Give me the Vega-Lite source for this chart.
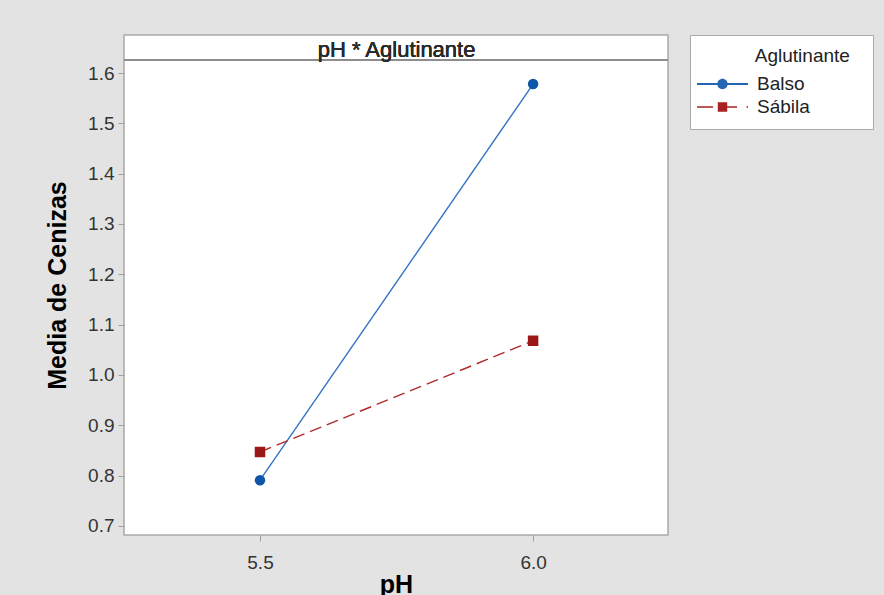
{
  "$schema": "https://vega.github.io/schema/vega-lite/v6.json",
  "autosize": {"type": "none"},
  "padding": {"left": 124, "top": 35, "right": 216, "bottom": 60},
  "width": 544,
  "height": 500,
  "background": "#e3e3e3",
  "config": {
    "view": {"fill": "white", "stroke": "#a9a9a9", "strokeWidth": 1.5},
    "font": "Liberation Sans",
    "axis": {
      "domain": false,
      "grid": false,
      "tickColor": "#a0a0a0",
      "tickSize": 6,
      "tickWidth": 1,
      "labelFont": "Liberation Sans",
      "labelFontSize": 19,
      "labelColor": "#333333",
      "titleFont": "Liberation Sans",
      "titleFontSize": 25,
      "titleFontWeight": "bold",
      "titleColor": "#000000"
    }
  },
  "data": {
    "values": [
      {"pH": 5.5, "Aglutinante": "Balso", "Media": 0.791},
      {"pH": 6.0, "Aglutinante": "Balso", "Media": 1.578},
      {"pH": 5.5, "Aglutinante": "Sábila", "Media": 0.847},
      {"pH": 6.0, "Aglutinante": "Sábila", "Media": 1.068}
    ]
  },
  "encoding": {
    "x": {
      "field": "pH", "type": "quantitative",
      "scale": {"domain": [5.251, 6.247], "nice": false, "zero": false},
      "axis": {"values": [5.5, 6.0], "format": ".1f", "labelPadding": 12, "titlePadding": 0, "title": "pH"}
    },
    "y": {
      "field": "Media", "type": "quantitative",
      "scale": {"domain": [0.6821, 1.6755], "nice": false, "zero": false},
      "axis": {"values": [0.7, 0.8, 0.9, 1.0, 1.1, 1.2, 1.3, 1.4, 1.5, 1.6], "format": ".1f", "labelPadding": 4, "titlePadding": 17, "title": "Media de Cenizas"}
    }
  },
  "layer": [
    {
      "mark": {"type": "rule", "color": "#8c8c8c", "strokeWidth": 1.5},
      "encoding": {"x": {"value": 0}, "x2": {"value": 544}, "y": {"datum": 1.6258}}
    },
    {
      "mark": {"type": "text", "fontSize": 22, "fontWeight": "normal", "color": "#2a2a2a", "baseline": "alphabetic", "align": "center"},
      "encoding": {"x": {"datum": 5.75}, "y": {"datum": 1.6318}, "text": {"value": "pH * Aglutinante"}}
    },
    {
      "transform": [{"filter": "datum.Aglutinante === 'Balso'"}],
      "mark": {"type": "line", "strokeWidth": 1.4, "color": "#3273c2"}
    },
    {
      "transform": [{"filter": "datum.Aglutinante === 'Sábila'"}],
      "mark": {"type": "line", "strokeWidth": 1.4, "color": "#b02a2a", "strokeDash": [12, 6]}
    },
    {
      "transform": [{"filter": "datum.Aglutinante === 'Balso'"}],
      "mark": {"type": "point", "filled": true, "opacity": 1, "size": 110, "strokeWidth": 0, "shape": "circle", "color": "#0f56a8"}
    },
    {
      "transform": [{"filter": "datum.Aglutinante === 'Sábila'"}],
      "mark": {"type": "point", "filled": true, "opacity": 1, "size": 110, "strokeWidth": 0, "shape": "square", "color": "#9c1717"}
    },
    {
      "mark": {"type": "point", "filled": true, "size": 0, "strokeWidth": 0, "opacity": 1},
      "encoding": {
        "color": {
          "field": "Aglutinante", "type": "nominal",
          "scale": {"domain": ["Balso", "Sábila"], "range": ["#2566b4", "#a82222"]},
          "legend": {
            "orient": "none",
            "legendX": 566,
            "legendY": 0,
            "title": "\u200b\u00a0\u00a0\u00a0\u00a0\u00a0\u00a0\u00a0\u00a0\u00a0\u00a0Aglutinante\u00a0\u00a0\u200b",
            "titleFont": "Liberation Sans",
            "titleFontSize": 19,
            "titleFontWeight": "normal",
            "titleColor": "#222222",
            "titlePadding": 8,
            "labelFont": "Liberation Sans",
            "labelFontSize": 19,
            "labelColor": "#222222",
            "padding": 12,
            "strokeColor": "#a9a9a9",
            "fillColor": "white",
            "symbolSize": 400,
            "symbolStrokeWidth": 0,
            "symbolOpacity": 1,
            "symbolOffset": 10.5,
            "labelOffset": 24.5,
            "rowPadding": 3
          }
        },
        "shape": {
          "field": "Aglutinante", "type": "nominal",
          "scale": {
            "domain": ["Balso", "Sábila"],
            "range": [
              "M-2.55,-0.09H2.55V0.09H-2.55Z M-0.52,0A0.52,0.52,0,1,1,0.52,0A0.52,0.52,0,1,1,-0.52,0Z",
              "M-2.55,-0.08H-0.95V0.08H-2.55Z M-0.47,-0.47H0.47V0.47H-0.47Z M0.47,-0.08H1.45V0.08H0.47Z M2.4,-0.08H2.55V0.08H2.4Z"
            ]
          }
        }
      }
    }
  ]
}
